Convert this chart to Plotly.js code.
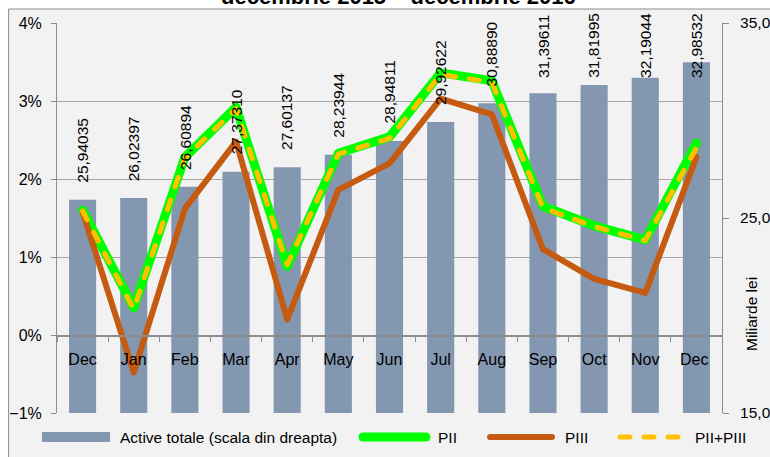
<!DOCTYPE html>
<html>
<head>
<meta charset="utf-8">
<script src="https://cdn.plot.ly/plotly-3.0.1.min.js"></script>
<style>
html,body{margin:0;padding:0;background:#fff;}
#chart{width:770px;height:457px;}
#chart .scatterlayer .js-line{stroke-linecap:round;stroke-linejoin:round;}
#chart .shapelayer path{stroke-linecap:round;}
</style>
</head>
<body>
<div id="chart"></div>
<script>
// ---- data ----
var categories = ["Dec","Jan","Feb","Mar","Apr","May","Jun","Jul","Aug","Sep","Oct","Nov","Dec "];
var activeTotale = [25.94035,26.02397,26.60894,27.37310,27.60137,28.23944,28.94811,29.92622,30.88890,31.39611,31.81995,32.19044,32.98532];
var pII = [1.60,0.35,2.28,2.92,0.88,2.33,2.54,3.36,3.26,1.65,1.40,1.22,2.46];
var pIII = [1.58,-0.48,1.62,2.48,0.20,1.86,2.20,3.03,2.83,1.10,0.72,0.54,2.28];
var pIIplusIII = [1.59,0.33,2.27,2.90,0.90,2.32,2.52,3.34,3.24,1.63,1.39,1.21,2.40];
var seriesNames = ["Active totale (scala din dreapta)","PII","PIII","PII+PIII"];
var titleText = "decembrie 2015 \u2013 decembrie 2016";
var rightAxisTitle = "Miliarde lei";

// ---- styling ----
var FONT = "'Liberation Sans Narrow','Arial Narrow','Liberation Sans',Arial,sans-serif";
var BAR = "#8497b0", GREEN = "#00ff00", BROWN = "#c55a11", YELLOW = "#ffc000";
var L = 57, R = 722, T = 23, B = 413, W = 770, H = 457;
function px(x){ return (x - L) / (R - L); }
function py(y){ return (B - y) / (B - T); }

var traces = [
  {type:"bar", x:categories, y:activeTotale, yaxis:"y", name:seriesNames[0],
   marker:{color:BAR, line:{width:0}}, hoverinfo:"skip"},
  {type:"scatter", mode:"lines", x:categories, y:pII, yaxis:"y2", name:seriesNames[1],
   line:{color:GREEN, width:9}},
  {type:"scatter", mode:"lines", x:categories, y:pIII, yaxis:"y2", name:seriesNames[2],
   line:{color:BROWN, width:6}},
  {type:"scatter", mode:"lines", x:categories, y:pIIplusIII, yaxis:"y2", name:seriesNames[3],
   line:{color:YELLOW, width:5, dash:"10px,14px"}}
];

var annotations = [];
var cap = 31.3;
categories.forEach(function(c, i){
  var v = activeTotale[i];
  annotations.push({xref:"x", yref:"y", x:c, y:Math.min(v, cap), yanchor:"bottom", xanchor:"center",
    yshift:15, textangle:-90, showarrow:false,
    text:v.toFixed(5).replace(".", ","), font:{family:FONT, size:15.5, color:"#000"}});
});

// title (partly cut off at top, as in the reference)
annotations.push({xref:"paper", yref:"paper", x:px(399), y:py(11), xanchor:"center", yanchor:"bottom",
  showarrow:false, text:"<b>" + titleText + "</b>",
  font:{family:"'Liberation Sans',Arial,sans-serif", size:22, color:"#000"}});
// right axis title
annotations.push({xref:"paper", yref:"paper", x:px(751), y:py(314), xanchor:"center", yanchor:"middle",
  textangle:-90, showarrow:false, text:rightAxisTitle, font:{family:FONT, size:15.5, color:"#000"}});

var shapes = [
  {type:"rect", xref:"paper", yref:"paper", x0:px(9), x1:px(W+20), y0:py(H+20), y1:py(9),
   fillcolor:"#f2f2f2", line:{color:"#8c8c8c", width:1}, layer:"below"}
];

// custom legend
var legY = py(437);
shapes.push({type:"rect", xref:"paper", yref:"paper", x0:px(42), x1:px(110), y0:py(442), y1:py(432),
  fillcolor:BAR, line:{width:0}});
shapes.push({type:"line", xref:"paper", yref:"paper", x0:px(363), x1:px(426), y0:legY, y1:legY,
  line:{color:GREEN, width:9}});
shapes.push({type:"line", xref:"paper", yref:"paper", x0:px(490), x1:px(552), y0:legY, y1:legY,
  line:{color:BROWN, width:6}});
shapes.push({type:"line", xref:"paper", yref:"paper", x0:px(620), x1:px(686), y0:legY, y1:legY,
  line:{color:YELLOW, width:5, dash:"10px,14px"}});
var legX = [118, 436, 563, 693];
seriesNames.forEach(function(n, i){
  annotations.push({xref:"paper", yref:"paper", x:px(legX[i]), y:legY, xanchor:"left", yanchor:"middle",
    showarrow:false, text:n, font:{family:FONT, size:15.5, color:"#000"}});
});

var layout = {
  width:W, height:H,
  margin:{l:L, r:W-R, t:T, b:H-B, pad:0},
  paper_bgcolor:"#ffffff", plot_bgcolor:"rgba(0,0,0,0)",
  showlegend:false,
  bargap:0.47,
  separators:",.",
  font:{family:FONT, size:16, color:"#000"},
  xaxis:{type:"category", anchor:"free", position:py(335), showgrid:false, showline:true,
         linecolor:"#8c8c8c", linewidth:1.5, ticks:"outside", tickson:"boundaries", ticklen:5,
         tickcolor:"#8c8c8c", tickfont:{family:FONT, size:16}, ticklabelstandoff:9,
         range:[-0.5, 12.5], fixedrange:true},
  yaxis:{range:[15,35], dtick:10, tick0:15, tickformat:".1f", side:"right",
          showgrid:false, zeroline:false, showline:true, linecolor:"#8c8c8c", ticks:"outside",
          ticklen:6, tickcolor:"#8c8c8c", tickfont:{family:FONT, size:15.5}, ticklabelstandoff:8},
  yaxis2:{range:[-1,4], dtick:1, tick0:0, ticksuffix:"%", overlaying:"y", side:"left",
         showgrid:true, gridcolor:"#a6a6a6", gridwidth:1, zeroline:false, showline:true,
         linecolor:"#8c8c8c", ticks:"outside", ticklen:5, tickcolor:"#8c8c8c",
         tickfont:{family:FONT, size:16}, ticklabelstandoff:6},
  annotations:annotations,
  shapes:shapes
};

Plotly.newPlot("chart", traces, layout, {displayModeBar:false, staticPlot:true});
</script>
</body>
</html>
